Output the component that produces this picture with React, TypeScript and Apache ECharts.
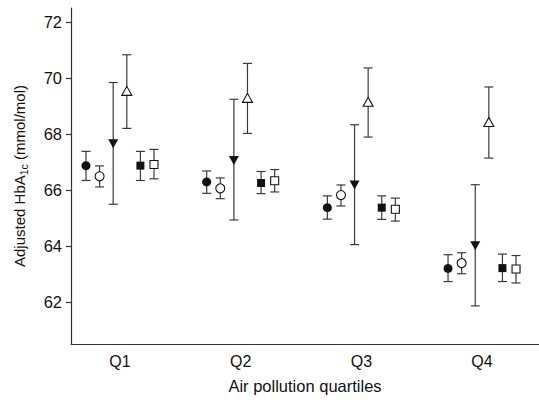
import React, { useEffect, useRef } from "react";
import * as echarts from "echarts";

const categories = ["Q1", "Q2", "Q3", "Q4"];
const yTicks = [62, 64, 66, 68, 70, 72];

// filled circle
const filledCircleMean = [66.87, 66.29, 65.37, 63.2];
const filledCircleLow = [66.34, 65.88, 64.96, 62.73];
const filledCircleHigh = [67.38, 66.68, 65.79, 63.69];
// open circle
const openCircleMean = [66.49, 66.06, 65.82, 63.39];
const openCircleLow = [66.11, 65.69, 65.43, 63.01];
const openCircleHigh = [66.86, 66.43, 66.18, 63.76];
// filled down triangle
const downTriMean = [67.65, 67.05, 66.18, 64.01];
const downTriLow = [65.49, 64.93, 64.05, 61.86];
const downTriHigh = [69.84, 69.24, 68.33, 66.19];
// open up triangle
const upTriMean = [69.54, 69.29, 69.15, 68.43];
const upTriLow = [68.2, 68.02, 67.89, 67.14];
const upTriHigh = [70.83, 70.52, 70.36, 69.68];
// filled square
const filledSquareMean = [66.87, 66.25, 65.37, 63.21];
const filledSquareLow = [66.34, 65.87, 64.95, 62.73];
const filledSquareHigh = [67.38, 66.66, 65.79, 63.71];
// open square
const openSquareMean = [66.91, 66.33, 65.31, 63.18];
const openSquareLow = [66.4, 65.93, 64.89, 62.68];
const openSquareHigh = [67.45, 66.73, 65.71, 63.66];

const FONT = "Liberation Sans, Arial, Helvetica, sans-serif";
const STEP = 0.1127;

const seriesDefs = [
  { name: "filledCircle", symbol: "circle", filled: true, rotate: 0, size: 9, mean: filledCircleMean, low: filledCircleLow, high: filledCircleHigh },
  { name: "openCircle", symbol: "circle", filled: false, rotate: 0, size: 9, mean: openCircleMean, low: openCircleLow, high: openCircleHigh },
  { name: "downTri", symbol: "triangle", filled: true, rotate: 180, size: [10, 9], mean: downTriMean, low: downTriLow, high: downTriHigh },
  { name: "upTri", symbol: "triangle", filled: false, rotate: 0, size: [10, 9], mean: upTriMean, low: upTriLow, high: upTriHigh },
  { name: "filledSquare", symbol: "rect", filled: true, rotate: 0, size: 8, mean: filledSquareMean, low: filledSquareLow, high: filledSquareHigh },
  { name: "openSquare", symbol: "rect", filled: false, rotate: 0, size: 8, mean: openSquareMean, low: openSquareLow, high: openSquareHigh },
];

export default function App() {
  const ref = useRef<HTMLDivElement>(null);
  useEffect(() => {
    if (!ref.current) return;
    const chart = echarts.init(ref.current, undefined, { renderer: "svg" });
    const series: any[] = [];
    seriesDefs.forEach((d, k) => {
      const off = (k - 2.5) * STEP;
      series.push({
        type: "custom",
        name: d.name + "-err",
        z: 2,
        encode: { x: 0, y: [1, 2] },
        data: categories.map((_, i) => [i + 1 + off, d.low[i], d.high[i]]),
        renderItem: (params: any, api: any) => {
          const x = api.value(0);
          const lo = api.coord([x, api.value(1)]);
          const hi = api.coord([x, api.value(2)]);
          const hw = 4.5;
          const style = { stroke: "#3a3a3a", lineWidth: 1.2, fill: "none" };
          return {
            type: "group",
            children: [
              { type: "line", shape: { x1: lo[0], y1: lo[1], x2: hi[0], y2: hi[1] }, style },
              { type: "line", shape: { x1: lo[0] - hw, y1: lo[1], x2: lo[0] + hw, y2: lo[1] }, style },
              { type: "line", shape: { x1: hi[0] - hw, y1: hi[1], x2: hi[0] + hw, y2: hi[1] }, style },
            ],
          };
        },
      });
      series.push({
        type: "scatter",
        name: d.name,
        z: 5,
        symbol: d.symbol,
        symbolRotate: d.rotate,
        symbolSize: d.size,
        itemStyle: {
          color: d.filled ? "#111" : "#fff",
          borderColor: "#111",
          borderWidth: d.filled ? 0 : 1.1,
          opacity: 1,
        },
        data: categories.map((_, i) => [i + 1 + off, d.mean[i]]),
      });
    });

    chart.setOption({
      animation: false,
      backgroundColor: "#fff",
      textStyle: { fontFamily: FONT },
      grid: { left: 71, right: 0, top: 8, bottom: 56 },
      xAxis: {
        type: "value",
        min: 0.594,
        max: 4.472,
        splitLine: { show: false },
        axisLine: { show: true, onZero: false, lineStyle: { color: "#333", width: 1.2 } },
        axisTick: { show: false },
        axisLabel: {
          customValues: [1, 2, 3, 4],
          formatter: (v: number) => categories[Math.round(v) - 1] ?? "",
          color: "#111",
          fontSize: 16,
          fontFamily: FONT,
          margin: 9,
        },
        name: "Air pollution quartiles",
        nameLocation: "middle",
        nameGap: 33,
        nameTextStyle: { color: "#111", fontSize: 16.5, fontFamily: FONT },
      },
      yAxis: {
        type: "value",
        min: 60.5,
        max: 72.5,
        splitLine: { show: false },
        axisLine: { show: true, onZero: false, lineStyle: { color: "#333", width: 1.2 } },
        axisTick: { show: true, customValues: yTicks, length: 5, lineStyle: { color: "#333", width: 1.2 } },
        axisLabel: {
          customValues: yTicks,
          color: "#111",
          fontSize: 16.5,
          fontFamily: FONT,
          margin: 9,
        },
        name: "{a|Adjusted HbA}{b|1c}{a| (mmol/mol)}",
        nameLocation: "middle",
        nameGap: 42,
        nameTextStyle: {
          color: "#111",
          fontFamily: FONT,
          rich: {
            a: { fontSize: 15, fontFamily: FONT, color: "#111", lineHeight: 20, verticalAlign: "middle" },
            b: { fontSize: 10.5, fontFamily: FONT, color: "#111", lineHeight: 20, verticalAlign: "bottom", padding: [8, 0, 0, 0] },
          },
        },
      },
      series,
    });
    return () => chart.dispose();
  }, []);
  return <div ref={ref} style={{ position: "fixed", left: 0, top: 0, width: 539, height: 400 }} />;
}
